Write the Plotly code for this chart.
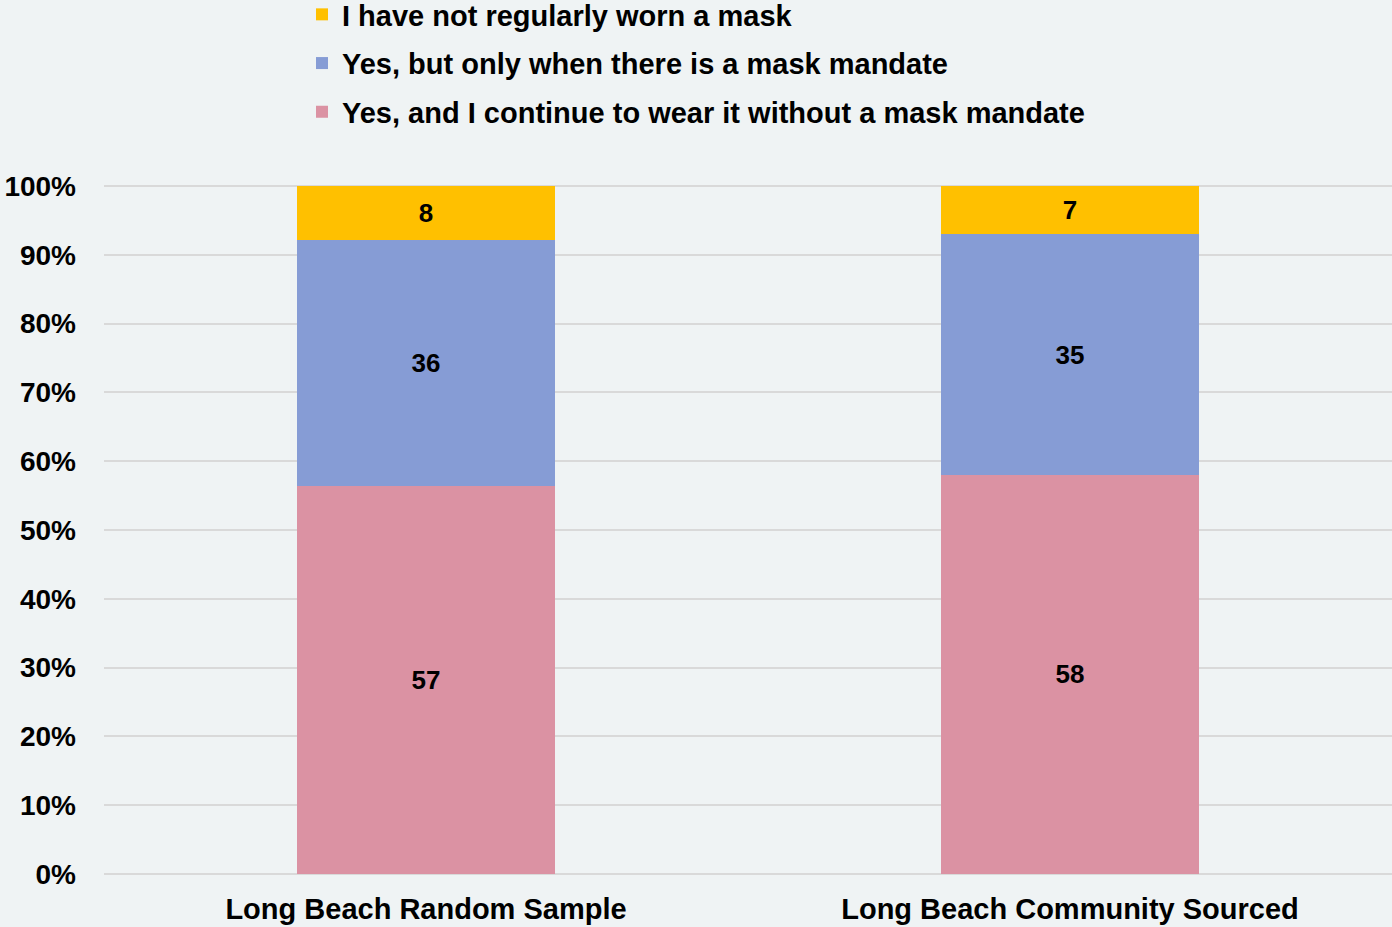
import plotly.graph_objects as go

categories = ["Long Beach Random Sample", "Long Beach Community Sourced"]
series_names = [
    "Yes, and I continue to wear it without a mask mandate",
    "Yes, but only when there is a mask mandate",
    "I have not regularly worn a mask",
]
continue_wearing = [57, 58]
only_mandate = [36, 35]
not_worn = [8, 7]
colors = ["#DB92A3", "#869CD5", "#FFC000"]

values = [continue_wearing, only_mandate, not_worn]

FONT = "Liberation Sans, Arial, sans-serif"

fig = go.Figure()
for i, (name, vals, col) in enumerate(zip(series_names, values, colors)):
    fig.add_trace(go.Bar(
        x=categories, y=vals, name=name,
        marker=dict(color=col, line=dict(width=0)),
        text=[str(v) for v in vals],
        textposition="inside",
        insidetextanchor="middle",
        textangle=0,
        textfont=dict(family=FONT, size=26, color="black", weight="bold"),
        width=0.4,
        legendgroup=f"g{i}",
        legendrank=3 - i,
    ))

fig.update_layout(
    barmode="stack",
    barnorm="percent",
    width=1392, height=927,
    paper_bgcolor="#EFF3F4",
    plot_bgcolor="#EFF3F4",
    margin=dict(l=104, r=0, t=184, b=53, autoexpand=False),
    font=dict(family=FONT, size=26, color="black", weight="bold"),
    showlegend=True,
    legend=dict(
        traceorder="grouped",
        tracegroupgap=8,
        x=(302 - 104) / 1288, xanchor="left",
        y=1 + 195 / 690, yanchor="top",
        font=dict(family=FONT, size=29, color="black", weight="bold"),
        bgcolor="rgba(0,0,0,0)",
    ),
    xaxis=dict(
        range=[-0.5, 1.5],
        showgrid=False,
        showline=False,
        ticks="",
        ticklabelstandoff=15,
        tickfont=dict(family=FONT, size=29, color="black", weight="bold"),
    ),
    yaxis=dict(
        range=[0, 100.29],
        tickvals=[0, 10, 20, 30, 40, 50, 60, 70, 80, 90, 100],
        ticktext=[f"{v}%" for v in range(0, 101, 10)],
        showgrid=True,
        gridcolor="#D9D9D9",
        gridwidth=2,
        zeroline=True,
        zerolinecolor="#D9D9D9",
        zerolinewidth=2,
        ticks="",
        ticklabelstandoff=27,
        tickfont=dict(family=FONT, size=28, color="black", weight="bold"),
    ),
)

fig.write_html("out.html", config={"displayModeBar": False},
               post_script="document.body.style.margin='0';")
